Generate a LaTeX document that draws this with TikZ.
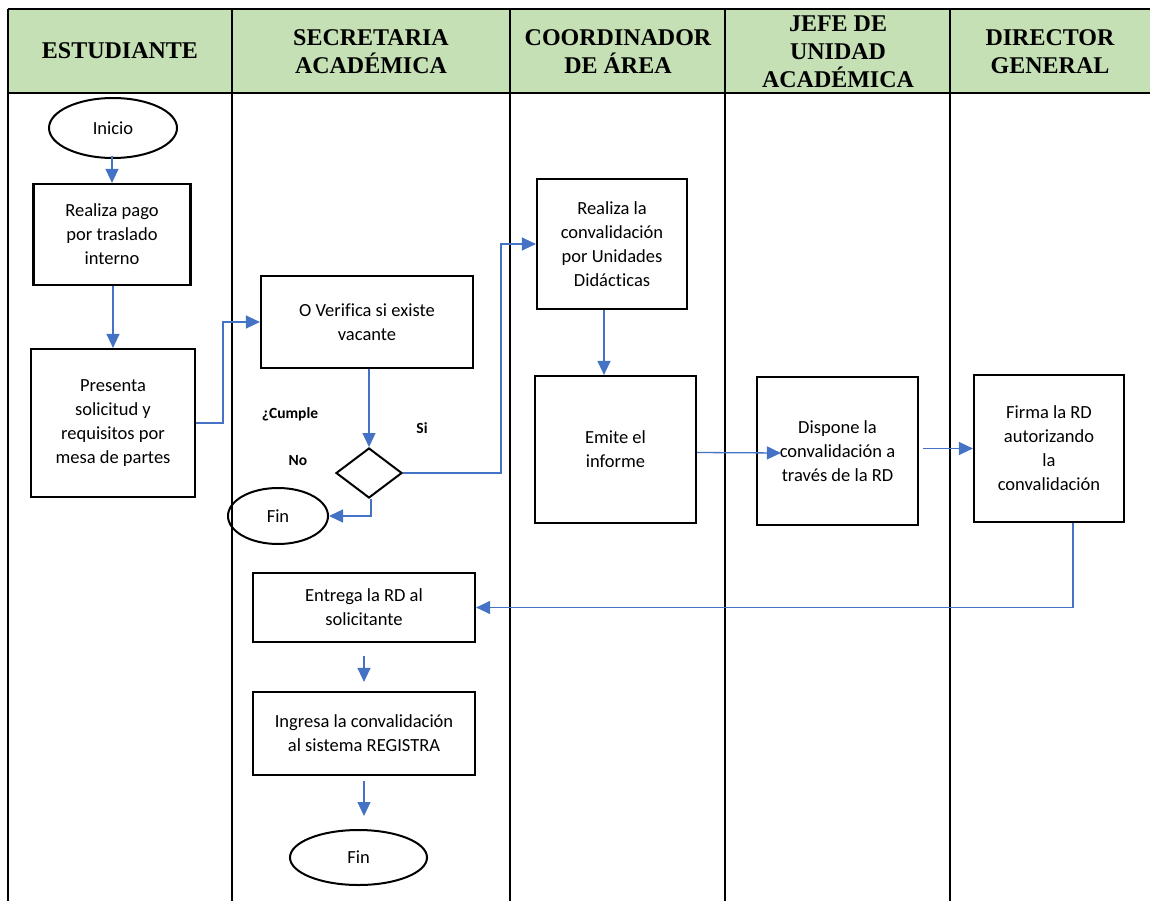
\documentclass[tikz,border=0pt]{standalone}
\usepackage{fontspec}
\setmainfont{Liberation Serif}
\newfontfamily\bodyfont[Ligatures=NoCommon]{Carlito}
\usetikzlibrary{arrows.meta,shapes.geometric}
\definecolor{hdrgreen}{HTML}{C5E0B4}
\definecolor{flowblue}{HTML}{4472C4}
\begin{document}
\begin{tikzpicture}[x=1pt,y=-1pt,
  box/.style={draw=black,line width=2.2pt,rectangle,inner sep=0pt,align=center,
    font=\bodyfont\fontsize{18.5}{24}\selectfont},
  term/.style={draw=black,line width=2pt,ellipse,inner sep=0pt,
    font=\bodyfont\fontsize{18.5}{24}\selectfont},
  decision/.style={draw=black,line width=2pt,diamond,inner sep=0pt,
    minimum width=66pt,minimum height=50pt},
  flowline/.style={draw=flowblue,line width=1.3pt,-{Triangle[length=14pt,width=13pt]}},
  lane/.style={line width=2pt},
  hdrtext/.style={font=\bfseries\fontsize{24}{28}\selectfont,align=center},
  tag/.style={font=\bodyfont\bfseries\fontsize{15.5}{18}\selectfont}
]
\useasboundingbox (0,0) rectangle (1150,901);

% header band
\fill[hdrgreen] (8,9) rectangle (1150,93);
\draw[line width=2.5pt] (8,9) -- (1150,9);
\draw[line width=2.5pt] (8,93) -- (1150,93);

% swimlane dividers
\foreach \lx in {8,232,510,725,950}
  \draw[lane] (\lx,9) -- (\lx,901);

% lane titles
\node[hdrtext] (h1) at (120,51) {ESTUDIANTE};
\node[hdrtext] (h2) at (371,52) {SECRETARIA\\ACADÉMICA};
\node[hdrtext] (h3) at (618,52) {COORDINADOR\\DE ÁREA};
\node[hdrtext] (h4) at (838,52) {JEFE DE\\UNIDAD\\ACADÉMICA};
\node[hdrtext] (h5) at (1050,52) {DIRECTOR\\GENERAL};

% steps
\node[term,minimum width=128pt,minimum height=60pt] (inicio) at (113,128) {Inicio};
\node[box,minimum width=157pt,minimum height=101pt] (pago) at (112,234.5)
  {Realiza pago\\por traslado\\interno};
\node[box,minimum width=164pt,minimum height=148pt] (presenta) at (113,423)
  {Presenta\\solicitud y\\requisitos por\\mesa de partes};
\node[box,minimum width=212pt,minimum height=92pt] (verifica) at (367,322)
  {O Verifica si existe\\vacante};
\node[decision] (dia) at (369,473) {};
\node[term,minimum width=100pt,minimum height=56pt] (fin1) at (278,516) {Fin};
\node[box,minimum width=150pt,minimum height=130pt] (conv) at (612,244)
  {Realiza la\\convalidación\\por Unidades\\Didácticas};
\node[box,minimum width=161pt,minimum height=147pt] (emite) at (615.5,449.5)
  {Emite el\\informe};
\node[box,minimum width=161pt,minimum height=148pt] (dispone) at (837.5,451)
  {Dispone la\\convalidación a\\través de la RD};
\node[box,minimum width=150pt,minimum height=147pt] (firma) at (1049,448.5)
  {Firma la RD\\autorizando\\la\\convalidación};
\node[box,minimum width=222pt,minimum height=69pt] (entrega) at (364,607.5)
  {Entrega la RD al\\solicitante};
\node[box,minimum width=222pt,minimum height=83pt] (ingresa) at (364,733.5)
  {Ingresa la convalidación\\al sistema REGISTRA};
\node[term,minimum width=137pt,minimum height=55pt] (fin2) at (358.5,857.5) {Fin};

% decision labels
\node[tag] (cumple) at (290,414) {¿Cumple};
\node[tag] (si) at (422,428) {Si};
\node[tag] (no) at (298,461) {No};

% free ends of the short arrows
\coordinate (fintip) at ([yshift=13pt]ingresa.south |- fin2.north);

% connectors
\draw[flowline] ([yshift=3pt]inicio.south -| pago.north) -- (pago.north);
\draw[flowline] ([xshift=1pt]pago.south) -- ([xshift=1pt]pago.south |- presenta.north);
\draw[flowline] (presenta.east) -- ++(27,0) |- (verifica.west);
\draw[flowline] (verifica.south -| dia.north) -- (dia.north);
\draw[flowline] (dia.east) -- ++(98,0) |- (conv.west);
\draw[flowline] ([xshift=2pt]dia.south) |- (fin1.east);
\draw[flowline] ([xshift=-8pt]conv.south) -- ([xshift=-8pt]conv.south |- emite.north);
\draw[flowline] ([yshift=-3pt]emite.east) -- ([xshift=25pt,yshift=-2pt]dispone.west);
\draw[flowline] ([xshift=4pt]dispone.east |- firma.west) -- (firma.west);
\draw[flowline] ([xshift=24pt]firma.south) |- (entrega.east);
\draw[flowline] ([yshift=-13pt]entrega.south) -- ([yshift=9pt]ingresa.north);
\draw[flowline] ([yshift=-5pt]ingresa.south) -- (fintip);
\end{tikzpicture}
\end{document}
